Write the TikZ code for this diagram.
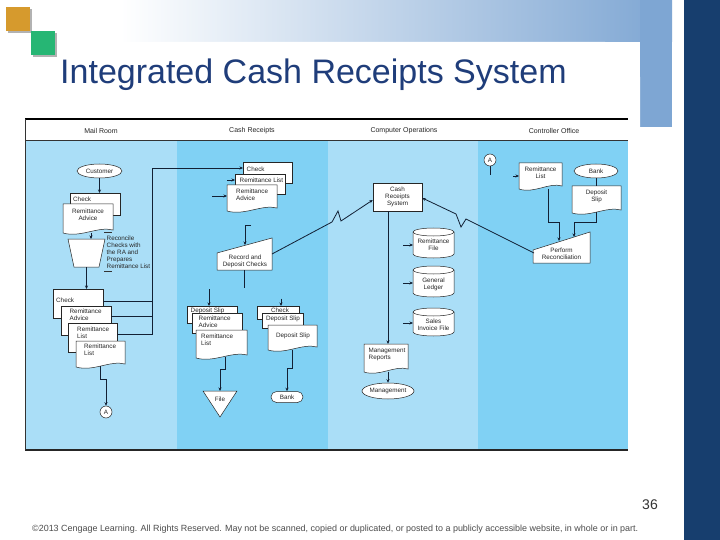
\documentclass[tikz,border=0pt]{standalone}
\usepackage{fontspec}
\setmainfont{Liberation Sans}
\usetikzlibrary{arrows.meta,shapes.geometric,calc}
\definecolor{navy}{RGB}{23,62,110}
\definecolor{bandblue}{RGB}{126,166,211}
\definecolor{titleblue}{RGB}{31,61,122}
\definecolor{collight}{RGB}{170,222,247}
\definecolor{colmid}{RGB}{128,209,244}
\definecolor{ink}{RGB}{18,32,52}
\definecolor{orangesq}{RGB}{214,154,45}
\definecolor{greensq}{RGB}{38,182,116}
\newcommand\rectdoc[5]{\node[geo, shp, minimum width={(#4-#2)*1pt}, minimum height={(#5-#3)*1pt}] (#1) at ({(#2+#4)/2},{(#3+#5)/2}) {};}
\newcommand\wavedoc[5]{\node[geo, minimum width={(#4-#2)*1pt}, minimum height={(#5-#3)*1pt}] (#1) at ({(#2+#4)/2},{(#3+#5)/2}) {};
 \filldraw[shp] (#2,#3) -- (#4,#3) -- (#4,#5) .. controls ({#4-0.3*(#4-#2)},{#5-4}) and ({#2+0.35*(#4-#2)},{#5+8}) .. (#2,{#5+3}) -- cycle;}
\newcommand\diskshape[5]{\node[geo, minimum width={(#4-#2)*1pt}, minimum height={(#5-#3)*1pt}] (#1) at ({(#2+#4)/2},{(#3+#5)/2}) {};
 \filldraw[shp] (#2,{#3+4}) -- (#2,{#5-4}) arc[start angle=180,end angle=0,x radius={(#4-#2)/2},y radius=4] -- (#4,{#3+4}) arc[start angle=0,end angle=-180,x radius={(#4-#2)/2},y radius=4] -- cycle;
 \draw[shp, fill=none] (#2,{#3+4}) arc[start angle=180,end angle=0,x radius={(#4-#2)/2},y radius=4];}
\begin{document}
\begin{tikzpicture}[x=1pt,y=-1pt,
  lbl/.style={font=\fontsize{6.3}{7}\selectfont, text=black!85, inner sep=0, align=center},
  lbll/.style={lbl, align=left},
  shp/.style={draw=black!85, fill=white, line width=0.5pt},
  geo/.style={inner sep=0, outer sep=0},
  conn/.style={draw=ink, line width=0.8pt},
  arr/.style={conn, -{Stealth[length=3.5pt,width=3pt]}},
  hdr/.style={font=\fontsize{7}{8}\selectfont, inner sep=0, text=black!85}
]
\useasboundingbox (0,0) rectangle (720,540);
\fill[white] (0,0) rectangle (720,540);
% slide background
\shade[left color=white, right color=bandblue] (120,0) rectangle (672,42);
\fill[bandblue] (640,0) rectangle (672,127);
\fill[white] (0,42) -- (605,42) arc[start angle=-90,end angle=0,radius=35] -- (640,540) -- (0,540) -- cycle;
\fill[navy] (684,0) rectangle (720,540);
\fill[black!30] (8,9) rectangle (32,33);
\fill[orangesq] (6,7) rectangle (30,31);
\fill[black!30] (33,33) rectangle (57,57);
\fill[greensq] (31,31) rectangle (55,55);
\node[anchor=base west, inner sep=0, text=titleblue, font=\fontsize{34}{38}\selectfont] (title) at (60,84) {Integrated Cash Receipts System};
\node[anchor=base east, inner sep=0, text=black!80, font=\fontsize{14}{16}\selectfont] (pnum) at (658,509) {36};
\node[anchor=base west, inner sep=0, text=black!70] (foot) at (32,531) {\resizebox{606pt}{!}{\fontsize{6}{7}\selectfont ©2013 Cengage Learning. All Rights Reserved. May not be scanned, copied or duplicated, or posted to a publicly accessible website, in whole or in part.}};
% diagram frame
\fill[white] (25,119) rectangle (628,140);
\fill[collight] (25,140) rectangle (177,450);
\fill[colmid] (177,140) rectangle (328,450);
\fill[collight] (328,140) rectangle (478,450);
\fill[colmid] (478,140) rectangle (628,450);
\draw[line width=2pt, black] (25,119) -- (628,119);
\draw[line width=0.6pt, black!80] (25,140) -- (628,140);
\draw[line width=1.2pt, black!85] (25,450) -- (628,450);
\draw[line width=0.6pt, black!80] (25,119) -- (25,450);
\node[hdr] (h1) at (101,131) {Mail Room};
\node[hdr] (h2) at (252,131) {Cash Receipts};
\node[hdr] (h3) at (404,131) {Computer Operations};
\node[hdr] (h4) at (554,131) {Controller Office};
% ---- Mail Room
\node[ellipse, shp, lbl, minimum width=45pt, minimum height=14pt] (cust) at (99.5,171) {Customer};
\rectdoc{mrchk}{70}{193}{120}{215}
\node[lbl, anchor=west] (mrchkt) at (73,199.5) {Check};
\wavedoc{mrra}{63}{204}{113}{230}
\node[lbl] (mrrat) at (88,215) {Remittance\\Advice};
\draw[arr] (cust.south) -- (cust.south |- mrchk.north);
\node[geo, minimum width=37pt, minimum height=28pt] (mrrec) at (86.5,253) {};
\filldraw[shp] (68,239) -- (105,239) -- (99,267) -- (74,267) -- cycle;
\coordinate (mrtip) at (91,233);
\draw[arr] (mrtip) -- (mrtip |- mrrec.north);
\draw[line width=0.5pt, black!80] (104,232.5) -- (112,232.5) (104,271.5) -- (112,271.5);
\node[lbll, anchor=north west] (mrnote) at (106.5,235.5) {Reconcile\\Checks with\\the RA and\\Prepares\\Remittance List};
\draw[arr] (mrrec.south) -- (mrrec.south |- 0,289);
\rectdoc{mrchk2}{53}{289}{103}{318}
\node[lbl, anchor=west] (mrchk2t) at (56,300.5) {Check};
\rectdoc{mrra2}{61}{306}{111}{335}
\node[lbll, anchor=north west] (mrra2t) at (69.5,309) {Remittance\\Advice};
\rectdoc{mrrl1}{68}{323}{117}{352}
\node[lbll, anchor=north west] (mrrl1t) at (77,326.5) {Remittance\\List};
\wavedoc{mrrl2}{76}{341}{125}{364}
\node[lbll, anchor=north west] (mrrl2t) at (84,344) {Remittance\\List};
\node[circle, shp, lbl, minimum size=12pt] (mrA) at (106,412) {A};
\draw[arr] ($(mrrl2.south)+(-0.5,2)$) -- ++(0,13) -| (mrA.north);
% ---- Cash Receipts
\rectdoc{crchk}{243}{162}{292}{183}
\node[lbl, anchor=west] (crchkt) at (246.5,169) {Check};
\rectdoc{crrl}{235}{174}{285}{194}
\node[lbl, anchor=west] (crrlt) at (239.5,180.5) {Remittance List};
\wavedoc{crra}{227}{185}{277}{208}
\node[lbll, anchor=north west] (crrat) at (236,188.5) {Remittance\\Advice};
\draw[conn] ($(mrchk2.east)+(0,-2.5)$) -- (152,301);
\draw[conn] ($(mrra2.east)+(0,-4.5)$) -- (152,316);
\draw[arr] ($(mrrl1.east)+(0,-3.5)$) -- (152,334) -- (152,168) -- ($(crchk.west)+(0,-4.5)$);
\draw[arr] ($(crrl.west)+(-8,-4)$) -- ($(crrl.west)+(0,-4)$);
\draw[arr] ($(crra.west)+(-15,-0.5)$) -- ($(crra.west)+(0,-0.5)$);
\node[geo, minimum width=55pt, minimum height=32pt] (crrec) at (244.5,254) {};
\filldraw[shp] (217,253) -- (272,238) -- (272,270) -- (217,270) -- cycle;
\node[lbl] (crrect) at (245,261) {Record and\\Deposit Checks};
\coordinate (crin) at (251,225);
\draw[arr] (crin) -- (245,225) -- (245,245);
\draw[conn] (crrec.south) -- ++(0,18);
\rectdoc{crds}{187}{306}{237}{323}
\node[lbl, anchor=west] (crdst) at (190.5,310.5) {Deposit Slip};
\rectdoc{crra2}{192}{313}{242}{333}
\node[lbll, anchor=north west] (crra2t) at (198.5,315.5) {Remittance\\Advice};
\wavedoc{crrl2}{196}{330}{247}{355}
\node[lbll, anchor=north west] (crrl2t) at (201,333.5) {Remittance\\List};
\coordinate (crin2) at (209,289);
\draw[arr] (crin2) -- (crin2 |- crds.north);
\node[geo, minimum width=34pt, minimum height=26pt] (crfile) at (220,404) {};
\filldraw[shp] (203,391) -- (237,391) -- (220,417) -- cycle;
\node[lbl] (crfilet) at (220,399.5) {File};
\draw[arr] ($(crrl2.south)+(3.5,2)$) -- (225,369) -- (220,369) -- (crfile.north);
\rectdoc{crchk2}{257}{306}{299}{319}
\node[lbl] (crchk2t) at (280,310) {Check};
\rectdoc{crds2}{262}{313}{303}{328}
\node[lbl] (crds2t) at (283,318.5) {Deposit Slip};
\wavedoc{crds3}{268}{325}{317}{347}
\node[lbl] (crds3t) at (293,336) {Deposit Slip};
\coordinate (crin3) at (281,298.5);
\draw[arr] (crin3) -- (crin3 |- crchk2.north);
\node[shp, lbl, rounded corners=5.5pt, minimum width=32pt, minimum height=11pt] (crbank) at (287,397) {Bank};
\draw[arr] (292,349.5) -- (292,368) -- (287,368) -- (crbank.north);
% ---- Computer Operations
\node[shp, lbl, minimum width=49pt, minimum height=28pt] (cocrs) at (397.5,197) {Cash\\Receipts\\System};
\draw[arr] (crrec.east) -- (332,222) -- (338,211) -- (341,221) -- ($(cocrs.west)+(0,3)$);
\diskshape{corf}{413}{228}{454}{258}
\node[lbl] (corft) at (433.5,245) {Remittance\\File};
\diskshape{cogl}{413}{266}{454}{297}
\node[lbl] (coglt) at (433.5,284) {General\\Ledger};
\diskshape{cosi}{413}{308}{454}{336}
\node[lbl] (cosit) at (433.5,324.5) {Sales\\Invoice File};
\draw[arr] ($(corf.west)+(-10,2)$) -- ($(corf.west)+(0,2)$);
\draw[arr] ($(cogl.west)+(-10,1.5)$) -- ($(cogl.west)+(0,1.5)$);
\draw[arr] ($(cosi.west)+(-10,1)$) -- ($(cosi.west)+(0,1)$);
\wavedoc{comr}{364}{344}{408}{369}
\node[lbll, anchor=north west] (comrt) at (368.5,347.5) {Management\\Reports};
\coordinate (cobus) at ($(cocrs.south)+(-9.5,0)$);
\draw[arr] (cobus) -- (cobus |- comr.north);
\node[ellipse, shp, lbl, minimum width=44pt, minimum height=16pt] (comg) at (388,391) {Management};
\coordinate (comrb) at (388,371.5);
\draw[arr] (comrb) -- (comrb |- comg.north);
% ---- Controller Office
\node[circle, shp, lbl, minimum size=12pt] (ctA) at (490,160) {A};
\draw[conn] (ctA.south) -- ++(0,9);
\wavedoc{ctrl}{519}{163}{562}{186}
\node[lbl] (ctrlt) at (540.5,172.5) {Remittance\\List};
\draw[arr] ($(ctrl.west)+(-6,1.5)$) -- ($(ctrl.west)+(0,1.5)$);
\node[ellipse, shp, lbl, minimum width=44pt, minimum height=14pt] (ctbank) at (596,171) {Bank};
\wavedoc{ctds}{572}{186}{621}{210}
\node[lbl] (ctdst) at (596.5,196) {Deposit\\Slip};
\draw[conn] (ctbank.south) -- (ctbank.south |- ctds.north);
\node[geo, minimum width=57pt, minimum height=31pt] (ctrec) at (561.5,247.5) {};
\filldraw[shp] (533,250) -- (590,232) -- (590,263) -- (533,263) -- cycle;
\node[lbl] (ctrect) at (561.5,254) {Perform\\Reconciliation};
\draw[arr] (548,189) -- (548,222) -- (559,222) -- (559,241);
\draw[arr] (596,212) -- (596,222) -- (574,222) -- (574,237);
\draw[arr] (534,253) -- (466,219) -- (461,227) -- (456,214) -- ($(cocrs.east)+(0,1)$);
\end{tikzpicture}
\end{document}
